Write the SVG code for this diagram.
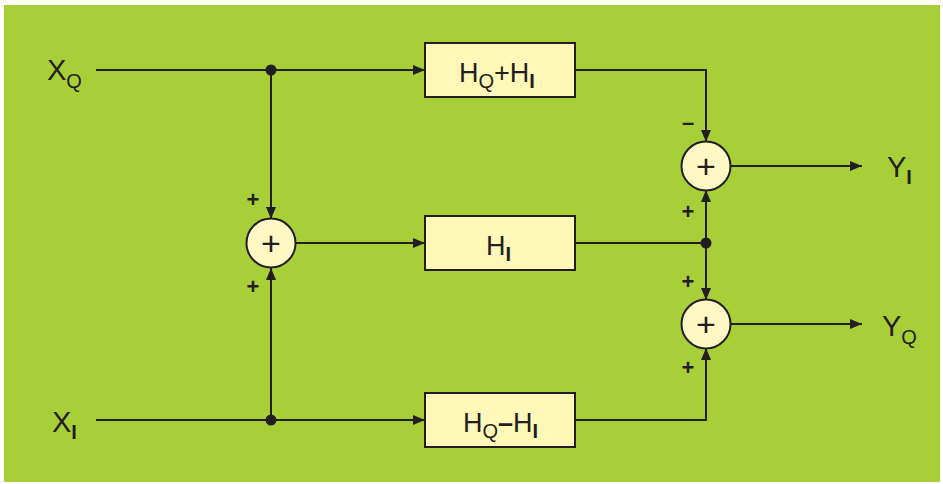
<svg xmlns="http://www.w3.org/2000/svg" width="943" height="484" viewBox="0 0 943 484">
<defs>
<marker id="ah" markerWidth="12" markerHeight="10" refX="12" refY="5" orient="auto" markerUnits="userSpaceOnUse">
<path d="M0,0 L12,5 L0,10 Z" fill="#231f20"/>
</marker>
<style>
.bg{fill:#a8cf38}
.box{fill:#fff8b8;stroke:#231f20;stroke-width:2}
.sum{fill:#fff8c4;stroke:#231f20;stroke-width:2}
.ln{fill:none;stroke:#231f20;stroke-width:2}
.ar{marker-end:url(#ah)}
.dot{fill:#231f20}
.t{font-family:"Liberation Sans",Arial,sans-serif;fill:#231f20}
.big{font-size:29px}
.bx{font-size:27px}
.sub{font-size:20px}
.sgn{font-size:22px;font-weight:bold}
.pl{font-size:34px}
</style>
</defs>
<rect class="bg" x="4" y="5" width="936" height="477"/>

<g id="connectors">
<line class="ln ar" x1="96" y1="70" x2="425" y2="70"/>
<line class="ln ar" x1="271" y1="70" x2="271" y2="219"/>
<line class="ln ar" x1="96" y1="420" x2="425" y2="420"/>
<line class="ln ar" x1="271" y1="420" x2="271" y2="268"/>
<line class="ln ar" x1="296" y1="243" x2="425" y2="243"/>
<polyline class="ln ar" points="575,70 706,70 706,142"/>
<line class="ln" x1="575" y1="243" x2="706" y2="243"/>
<line class="ln ar" x1="706" y1="243" x2="706" y2="190"/>
<line class="ln ar" x1="706" y1="243" x2="706" y2="300"/>
<polyline class="ln ar" points="575,420 706,420 706,348"/>
<line class="ln ar" x1="730" y1="166" x2="862" y2="166"/>
<line class="ln ar" x1="730" y1="324" x2="862" y2="324"/>
<circle class="dot" cx="271" cy="70" r="5.5"/>
<circle class="dot" cx="271" cy="420" r="5.5"/>
<circle class="dot" cx="706" cy="243" r="5.5"/>
</g>

<g id="in_xq"><text class="t big" x="47" y="80">X<tspan class="sub" dy="8">Q</tspan></text></g>
<g id="in_xi"><text class="t big" x="52" y="432">X<tspan class="sub" font-weight="bold" dy="7">I</tspan></text></g>

<g id="box_sum"><rect class="box" x="425" y="43" width="150" height="54"/>
<text class="t bx" x="459" y="82">H<tspan class="sub" dy="6">Q</tspan><tspan dy="-6">+H</tspan><tspan class="sub" font-weight="bold" dy="6">I</tspan></text></g>

<g id="box_hi"><rect class="box" x="425" y="216" width="150" height="54"/>
<text class="t bx" x="486" y="255">H<tspan class="sub" font-weight="bold" dy="6">I</tspan></text></g>

<g id="box_diff"><rect class="box" x="425" y="393" width="150" height="54"/>
<text class="t bx" x="463" y="432">H<tspan class="sub" dy="6">Q</tspan><tspan dy="-6" font-weight="bold">–</tspan><tspan>H</tspan><tspan class="sub" font-weight="bold" dy="6">I</tspan></text></g>

<g id="sum_left"><circle class="sum" cx="271" cy="243" r="24.5"/>
<text class="t pl" x="271" y="255" text-anchor="middle">+</text>
<text class="t sgn" x="253" y="207" text-anchor="middle">+</text>
<text class="t sgn" x="253" y="294" text-anchor="middle">+</text></g>

<g id="sum_top"><circle class="sum" cx="706" cy="166" r="24.5"/>
<text class="t pl" x="706" y="178" text-anchor="middle">+</text>
<text class="t sgn" x="688" y="130" text-anchor="middle">–</text>
<text class="t sgn" x="688" y="219" text-anchor="middle">+</text></g>

<g id="sum_bot"><circle class="sum" cx="706" cy="324" r="24.5"/>
<text class="t pl" x="706" y="336" text-anchor="middle">+</text>
<text class="t sgn" x="688" y="289" text-anchor="middle">+</text>
<text class="t sgn" x="688" y="375" text-anchor="middle">+</text></g>

<g id="out_yi"><text class="t big" x="887" y="177">Y<tspan class="sub" font-weight="bold" dy="7">I</tspan></text></g>
<g id="out_yq"><text class="t big" x="882" y="336">Y<tspan class="sub" dy="8">Q</tspan></text></g>
</svg>
